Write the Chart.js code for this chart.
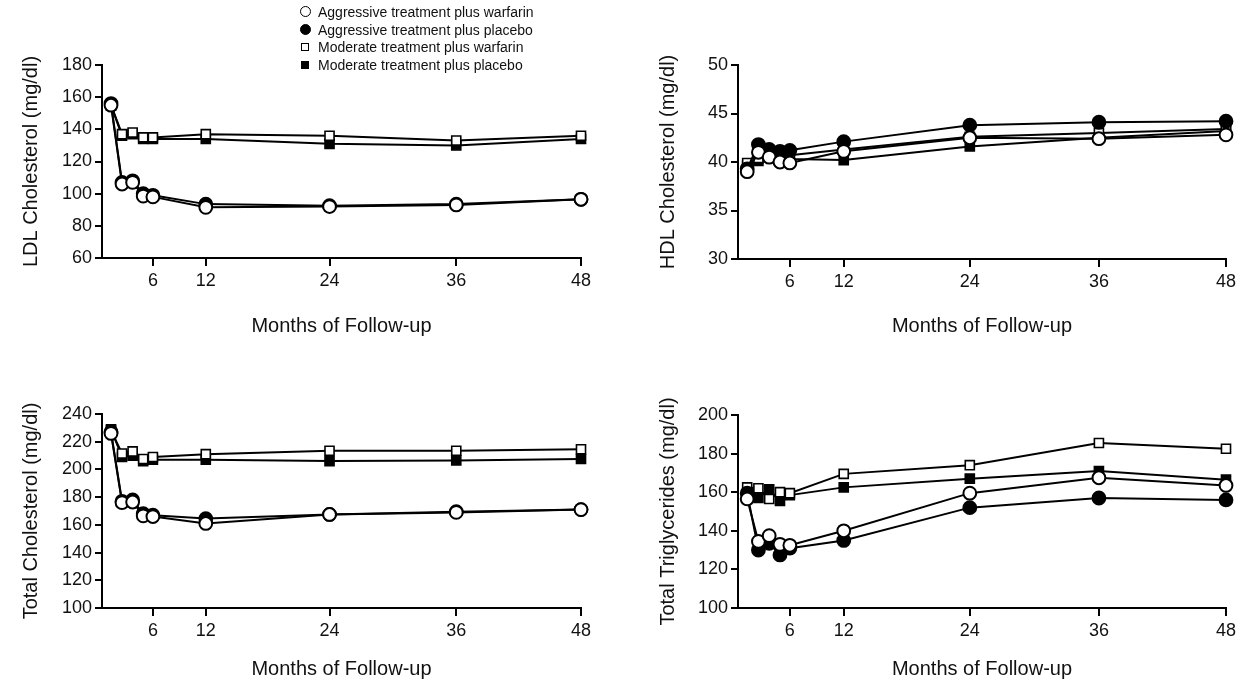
<!DOCTYPE html>
<html>
<head>
<meta charset="utf-8">
<script src="https://cdn.jsdelivr.net/npm/chart.js@4.4.1/dist/chart.umd.min.js"></script>
<style>
  html, body { margin: 0; padding: 0; background: #fff; }
  #page { position: relative; width: 1241px; height: 685px; overflow: hidden; font-family: "Liberation Sans", Arial, sans-serif; color: #111; }
  #page canvas { position: absolute; }
  #legend { position: absolute; left: 297px; top: 3px; font-size: 14px; }
  .item { display: flex; align-items: center; height: 17.7px; white-space: nowrap; }
  .mk { width: 16px; display: flex; justify-content: center; margin-right: 5px; }
  .oc, .fc { width: 9px; height: 9px; border: 1.6px solid #000; border-radius: 50%; }
  .oc { background: #fff; }
  .fc { background: #000; }
  .os { width: 6px; height: 6px; border: 1.5px solid #000; background: #fff; }
  .fs { width: 8px; height: 8px; background: #000; }
</style>
</head>
<body>
<div id="page">
  <canvas id="ldl" width="620" height="345" style="left:0;top:0"></canvas>
  <canvas id="hdl" width="621" height="345" style="left:620px;top:0"></canvas>
  <canvas id="tc" width="620" height="340" style="left:0;top:345px"></canvas>
  <canvas id="tg" width="621" height="340" style="left:620px;top:345px"></canvas>
  <div id="legend"></div>
</div>
<script>
// months at which the groups were measured (first one = baseline)
const MONTHS = [1.25, 2.5, 3.7, 4.9, 6, 12, 24, 36, 48];
const X_TICKS = [6, 12, 24, 36, 48];
const SERIES_LABELS = [
  "Aggressive treatment plus warfarin",
  "Aggressive treatment plus placebo",
  "Moderate treatment plus warfarin",
  "Moderate treatment plus placebo",
];

const LDL_AGG_WARFARIN = [155, 106, 107, 98.5, 98, 91.5, 92, 93, 96.5];
const LDL_AGG_PLACEBO = [156, 107, 108, 100, 99, 93.5, 92.5, 93.5, 96.5];
const LDL_MOD_WARFARIN = [155, 137, 138, 135, 135, 137, 136, 133, 136];
const LDL_MOD_PLACEBO = [155, 136, 137, 134, 134, 134, 131, 130, 134];

const HDL_AGG_WARFARIN = [39.0, 41.0, 40.5, 40.0, 39.9, 41.1, 42.5, 42.4, 42.8];
const HDL_AGG_PLACEBO = [39.3, 41.8, 41.3, 41.1, 41.2, 42.1, 43.8, 44.1, 44.2];
const HDL_MOD_WARFARIN = [39.9, 40.4, 40.8, 40.7, 40.7, 41.3, 42.6, 43.0, 43.4];
const HDL_MOD_PLACEBO = [39.6, 40.1, 40.6, 40.4, 40.3, 40.2, 41.6, 42.5, 43.2];

const TC_AGG_WARFARIN = [226, 176, 176.5, 166.5, 166, 161, 167.5, 169, 171];
const TC_AGG_PLACEBO = [227, 177, 178, 168, 167, 164.5, 167.5, 169.5, 171];
const TC_MOD_WARFARIN = [228, 211.5, 213, 207.5, 209, 211, 213.5, 213.5, 214.5];
const TC_MOD_PLACEBO = [229, 209, 210, 206, 207, 207, 206, 206.5, 207.5];

const TG_AGG_WARFARIN = [156.5, 134.5, 137.5, 133, 132.5, 140, 159.5, 167.5, 163.5];
const TG_AGG_PLACEBO = [159.5, 130, 133.5, 127.5, 131, 135, 152, 157, 156];
const TG_MOD_WARFARIN = [162.5, 162, 156.5, 160, 159.5, 169.5, 174, 185.5, 182.5];
const TG_MOD_PLACEBO = [159.5, 157, 161.5, 155.5, 158.5, 162.5, 167, 171, 166.5];

// the printed month axis is stretched unevenly; map months onto it piecewise
const AXIS_MONTHS = [0, 6, 12, 24, 36, 48];
const AXIS_UNITS = [0, 53, 106, 230, 357, 482];

function warp(month) {
  for (let i = 1; i < AXIS_MONTHS.length; i++) {
    if (month <= AXIS_MONTHS[i]) {
      const t = (month - AXIS_MONTHS[i - 1]) / (AXIS_MONTHS[i] - AXIS_MONTHS[i - 1]);
      return AXIS_UNITS[i - 1] + t * (AXIS_UNITS[i] - AXIS_UNITS[i - 1]);
    }
  }
  return AXIS_UNITS[AXIS_UNITS.length - 1];
}

const MARKERS = [
  { style: "circle", radius: 6.4, border: 2, fill: "#fff" },
  { style: "circle", radius: 6.4, border: 2, fill: "#000" },
  { style: "rect", radius: 6.4, border: 1.6, fill: "#fff" },
  { style: "rect", radius: 6.4, border: 1.6, fill: "#000" },
];

const TICK_FONT = { family: "'Liberation Sans', Arial, sans-serif", size: 18 };
const TITLE_FONT = { family: "'Liberation Sans', Arial, sans-serif", size: 20 };
const INK = "#111";

function dataset(label, values, marker) {
  return {
    label,
    data: MONTHS.map((month, i) => ({ x: warp(month), y: values[i] })),
    borderColor: "#000",
    borderWidth: 2,
    pointStyle: marker.style,
    pointRadius: marker.radius,
    pointBorderWidth: marker.border,
    pointBackgroundColor: marker.fill,
    pointBorderColor: "#000",
    tension: 0,
    clip: false,
  };
}

function renderPanel(canvasId, panel) {
  new Chart(document.getElementById(canvasId), {
    type: "line",
    data: {
      datasets: panel.series.map((values, i) => dataset(SERIES_LABELS[i], values, MARKERS[i])),
    },
    options: {
      responsive: false,
      animation: false,
      events: [],
      layout: { padding: panel.padding },
      plugins: { legend: { display: false }, tooltip: { enabled: false } },
      scales: {
        x: {
          type: "linear",
          min: 2,
          max: warp(48),
          afterBuildTicks: (scale) => { scale.ticks = X_TICKS.map((m) => ({ value: warp(m) })); },
          afterFit: (scale) => { scale.height = panel.xHeight; },
          ticks: { callback: (value, i) => X_TICKS[i], font: TICK_FONT, color: INK, padding: 4, maxRotation: 0, autoSkip: false },
          grid: { drawOnChartArea: false, color: "#000", lineWidth: 2, tickLength: 8 },
          border: { color: "#000", width: 2 },
          title: { display: true, text: "Months of Follow-up", font: TITLE_FONT, color: INK, padding: 0 },
        },
        y: {
          min: panel.min,
          max: panel.max,
          afterFit: (scale) => { scale.width = panel.yWidth; },
          ticks: { stepSize: panel.step, font: TICK_FONT, color: INK, padding: 3 },
          grid: { drawOnChartArea: false, color: "#000", lineWidth: 2, tickLength: 7 },
          border: { color: "#000", width: 2 },
          title: { display: true, text: panel.title, font: TITLE_FONT, color: INK, padding: 0 },
        },
      },
    },
  });
}

function renderLegend() {
  const marks = ["oc", "fc", "os", "fs"];
  document.getElementById("legend").innerHTML = SERIES_LABELS.map((label, i) =>
    `<div class="item"><span class="mk"><span class="${marks[i]}"></span></span>${label}</div>`
  ).join("");
}

renderPanel("ldl", {
  title: "LDL Cholesterol (mg/dl)", min: 60, max: 180, step: 20,
  series: [LDL_AGG_WARFARIN, LDL_AGG_PLACEBO, LDL_MOD_WARFARIN, LDL_MOD_PLACEBO],
  padding: { left: 19, top: 65, right: 39, bottom: 7 }, yWidth: 83, xHeight: 80,
});
renderPanel("hdl", {
  title: "HDL Cholesterol (mg/dl)", min: 30, max: 50, step: 5,
  series: [HDL_AGG_WARFARIN, HDL_AGG_PLACEBO, HDL_MOD_WARFARIN, HDL_MOD_PLACEBO],
  padding: { left: 36, top: 65, right: 15, bottom: 7 }, yWidth: 82, xHeight: 79,
});
renderPanel("tc", {
  title: "Total Cholesterol (mg/dl)", min: 100, max: 240, step: 20,
  series: [TC_AGG_WARFARIN, TC_AGG_PLACEBO, TC_MOD_WARFARIN, TC_MOD_PLACEBO],
  padding: { left: 19, top: 69, right: 39, bottom: 4 }, yWidth: 83, xHeight: 73,
});
renderPanel("tg", {
  title: "Total Triglycerides (mg/dl)", min: 100, max: 200, step: 20,
  series: [TG_AGG_WARFARIN, TG_AGG_PLACEBO, TG_MOD_WARFARIN, TG_MOD_PLACEBO],
  padding: { left: 36, top: 70, right: 15, bottom: 4 }, yWidth: 82, xHeight: 73,
});
renderLegend();
</script>
</body>
</html>
